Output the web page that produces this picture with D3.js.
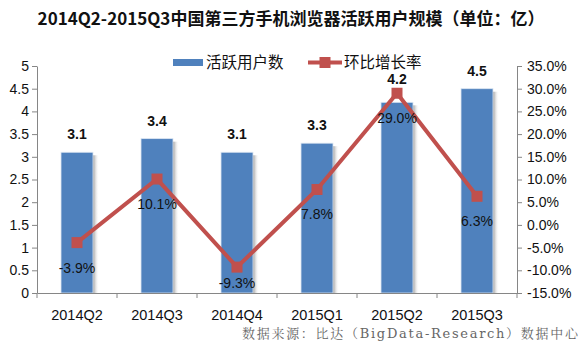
<!DOCTYPE html>
<html><head><meta charset="utf-8">
<script src="https://cdn.jsdelivr.net/npm/d3@7"></script>
<style>body{margin:0;background:#fff}</style>
</head><body><svg id="c" width="581" height="347"></svg>
<script>
const categories = ["2014Q2","2014Q3","2014Q4","2015Q1","2015Q2","2015Q3"];
const users = [3.1,3.4,3.1,3.3,4.2,4.5];
const growth = [-3.9,10.1,-9.3,7.8,29.0,6.3];
const leftTicks = [0,0.5,1,1.5,2,2.5,3,3.5,4,4.5,5];
const rightTicks = [-15,-10,-5,0,5,10,15,20,25,30,35];

const svg = d3.select("#c");
const font = "'Liberation Sans','Noto Sans CJK SC',sans-serif";
const L=37,R=517,T=66,B=293;
const x = d3.scaleBand().domain(categories).range([L,R]).paddingInner(0.6).paddingOuter(0.3);
const xb = d3.scaleBand().domain(categories).range([L,R]);
const y = d3.scaleLinear().domain([0,5]).range([B,T]);
const y2 = d3.scaleLinear().domain([-15,35]).range([B,T]);

const defs = svg.append("defs");
const g = defs.append("linearGradient").attr("id","sh");
g.append("stop").attr("offset","0").attr("stop-color","#888").attr("stop-opacity",0.85);
g.append("stop").attr("offset","1").attr("stop-color","#fff").attr("stop-opacity",0);

svg.append("text").attr("x",291).attr("y",25).attr("text-anchor","middle")
  .attr("font-family","'Noto Sans CJK SC',sans-serif").attr("font-weight","bold").attr("font-size",17)
  .attr("fill","#111").text("2014Q2-2015Q3中国第三方手机浏览器活跃用户规模（单位：亿）");

// shadows
svg.selectAll(".shd").data(categories).join("rect")
  .attr("x",d=>x(d)+x.bandwidth()).attr("y",(d,i)=>y(users[i])+3)
  .attr("width",6).attr("height",(d,i)=>B-y(users[i])-3).attr("fill","url(#sh)");
svg.selectAll(".bar").data(categories).join("rect")
  .attr("x",d=>x(d)).attr("y",(d,i)=>y(users[i]))
  .attr("width",x.bandwidth()).attr("height",(d,i)=>B-y(users[i])).attr("fill","#4F81BD")
  .attr("stroke","#dce6f2").attr("stroke-width",0.8);

// axes
const axL = svg.append("g").attr("transform",`translate(${L},0)`)
  .call(d3.axisLeft(y).tickValues(leftTicks).tickSize(5).tickSizeOuter(0).tickFormat(d3.format("")));
const axR = svg.append("g").attr("transform",`translate(${R},0)`)
  .call(d3.axisRight(y2).tickValues(rightTicks).tickSize(5).tickSizeOuter(0).tickFormat(d=>d.toFixed(1)+"%"));
const axB = svg.append("g").attr("transform",`translate(0,${B})`)
  .call(d3.axisBottom(xb).tickSize(0).tickSizeOuter(0));
svg.selectAll(".bt").data(d3.range(categories.length+1)).join("line")
  .attr("x1",i=>L+i*xb.step()).attr("x2",i=>L+i*xb.step()).attr("y1",B).attr("y2",B+5).attr("stroke","#868686");
[axL,axR,axB].forEach(a=>{
  a.selectAll("path,line").attr("stroke","#868686");
  a.selectAll("text").attr("font-family",font).attr("font-size",14).attr("fill","#111");
});
axL.selectAll("text").attr("x",-8);
axR.selectAll("text").attr("x",10);
axB.selectAll("text").attr("font-size",14.5).attr("y",0).attr("dy",0).attr("transform","translate(0,27)");

const cx = d=>x(d)+x.bandwidth()/2;
// bar labels (kept clear of the line markers)
svg.selectAll(".bl").data(categories).join("text")
  .attr("x",cx).attr("y",(d,i)=>Math.min(y(users[i])-13, y2(growth[i])-9))
  .attr("text-anchor","middle").attr("font-family",font).attr("font-weight","bold").attr("font-size",14)
  .attr("fill","#111").text((d,i)=>users[i].toFixed(1));

// line
svg.append("path").datum(categories)
  .attr("d",d3.line().x(cx).y((d,i)=>y2(growth[i])))
  .attr("fill","none").attr("stroke","#C0504D").attr("stroke-width",4);
svg.selectAll(".mk").data(categories).join("rect")
  .attr("x",d=>cx(d)-5.5).attr("y",(d,i)=>y2(growth[i])-5.5).attr("width",11).attr("height",11).attr("fill","#C0504D");
svg.selectAll(".ll").data(categories).join("text")
  .attr("x",cx).attr("y",(d,i)=>Math.min(y2(growth[i])+30, B-5))
  .attr("text-anchor","middle").attr("font-family",font).attr("font-size",14)
  .attr("fill","#111").text((d,i)=>growth[i].toFixed(1)+"%");

// legend
const lf = "'Noto Sans CJK SC',sans-serif";
svg.append("rect").attr("x",173).attr("y",59).attr("width",30).attr("height",7).attr("fill","#4F81BD");
svg.append("text").attr("x",206).attr("y",68).attr("font-family",lf).attr("font-size",15.5).attr("fill","#111").text("活跃用户数");
svg.append("line").attr("x1",308).attr("x2",342).attr("y1",62.5).attr("y2",62.5).attr("stroke","#C0504D").attr("stroke-width",4);
svg.append("rect").attr("x",319.5).attr("y",57).attr("width",11).attr("height",11).attr("fill","#C0504D");
svg.append("text").attr("x",344).attr("y",68).attr("font-family",lf).attr("font-size",15.5).attr("fill","#111").text("环比增长率");

// source
svg.append("text").attr("x",578).attr("y",338).attr("text-anchor","end")
  .attr("font-family","'DejaVu Serif','Noto Serif CJK SC','Noto Sans CJK SC',serif").attr("font-size",13)
  .attr("textLength",336).attr("lengthAdjust","spacing")
  .attr("fill","#666").text("数据来源：比达（BigData-Research）数据中心");
</script></body></html>
